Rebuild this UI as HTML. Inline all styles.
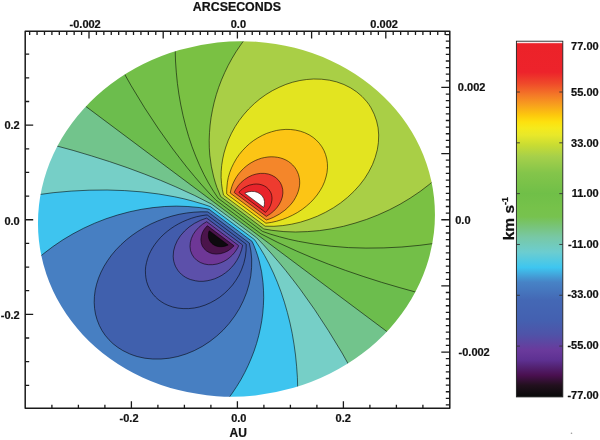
<!DOCTYPE html><html><head><meta charset="utf-8"><style>html,body{margin:0;padding:0;background:#fff;}body{width:600px;height:440px;overflow:hidden;}svg{display:block;}text{font-family:"Liberation Sans",sans-serif;font-weight:bold;fill:#111;stroke:#111;stroke-width:0.22px;}svg{will-change:transform;}</style></head><body><svg width="600" height="440" viewBox="0 0 600 440"><defs><mask id="disk" maskUnits="userSpaceOnUse" x="0" y="0" width="600" height="440"><ellipse cx="236.46" cy="218.95" rx="198.72" ry="177.46" transform="rotate(-6.14 236.46 218.95)" fill="#fff"/></mask><linearGradient id="cbg" x1="0" y1="0" x2="0" y2="1"><stop offset="0.0000" stop-color="#ffffff"/><stop offset="0.0032" stop-color="#ffffff"/><stop offset="0.0071" stop-color="#ec2229"/><stop offset="0.0870" stop-color="#ed232b"/><stop offset="0.1195" stop-color="#ef4a2a"/><stop offset="0.1519" stop-color="#f47a27"/><stop offset="0.1799" stop-color="#f8a11d"/><stop offset="0.2078" stop-color="#fdc80d"/><stop offset="0.2273" stop-color="#fde10f"/><stop offset="0.2442" stop-color="#f5ea1c"/><stop offset="0.2643" stop-color="#e8e82a"/><stop offset="0.2922" stop-color="#c8dc33"/><stop offset="0.3247" stop-color="#a6d04a"/><stop offset="0.3701" stop-color="#84c54a"/><stop offset="0.4286" stop-color="#70bf48"/><stop offset="0.4675" stop-color="#76c24a"/><stop offset="0.4935" stop-color="#77c24f"/><stop offset="0.5227" stop-color="#78c47c"/><stop offset="0.5506" stop-color="#78c8a5"/><stop offset="0.5929" stop-color="#6ccdd0"/><stop offset="0.6364" stop-color="#3ec6f0"/><stop offset="0.6773" stop-color="#4783c6"/><stop offset="0.7273" stop-color="#4468b5"/><stop offset="0.7857" stop-color="#4460b0"/><stop offset="0.8247" stop-color="#4f53a8"/><stop offset="0.8688" stop-color="#6a3a9c"/><stop offset="0.8961" stop-color="#5e3192"/><stop offset="0.9110" stop-color="#55267a"/><stop offset="0.9390" stop-color="#4a1050"/><stop offset="0.9669" stop-color="#22101e"/><stop offset="0.9968" stop-color="#0a0a0a"/><stop offset="1.0000" stop-color="#080808"/></linearGradient></defs><g mask="url(#disk)"><rect x="30" y="35" width="415" height="370" fill="#0d0a0e"/><path fill-rule="evenodd" fill="#4b144b" d="M34.7 38.6 438.3 38.6 438.3 399.8 34.7 399.8 34.7 38.6ZM209.1 230.9 208.6 232.6 208.4 234.6 208.4 236.6 208.7 238.3 209.4 240.2 210.3 241.7 211.4 243.0 212.7 244.2 214.3 245.2 215.9 245.9 217.9 246.5 219.9 246.7 221.9 246.7 223.9 246.4 225.9 245.9 228.2 245.0 209.5 230.9 209.1 230.9Z"/><path fill-rule="evenodd" fill="#6e3796" d="M34.7 38.6 438.3 38.6 438.3 399.8 34.7 399.8 34.7 38.6ZM207.1 225.9 204.5 229.0 202.6 232.2 201.4 235.8 200.9 239.4 201.2 242.6 202.2 245.8 204.0 248.6 206.6 251.0 209.5 252.7 212.7 253.7 216.3 254.1 220.3 253.7 224.3 252.6 227.9 250.9 231.1 248.6 234.1 245.8 207.5 225.8 207.1 225.9Z"/><path fill-rule="evenodd" fill="#5c50aa" d="M34.7 38.6 438.3 38.6 438.3 399.8 34.7 399.8 34.7 38.6ZM206.7 221.7 202.6 224.2 198.8 227.4 195.5 231.0 193.1 234.6 191.3 238.6 190.3 242.6 190.0 246.6 190.5 250.6 191.9 254.2 193.9 257.4 196.7 260.2 200.3 262.5 204.3 264.0 208.3 264.7 212.7 264.7 217.1 264.0 220.7 262.8 223.9 261.4 227.1 259.5 229.9 257.3 232.3 255.1 234.8 252.2 237.0 249.0 238.7 245.8 238.4 245.4 206.7 221.7Z"/><path fill-rule="evenodd" fill="#425cac" d="M34.7 38.6 438.3 38.6 438.3 399.8 34.7 399.8 34.7 38.6ZM206.3 218.2 200.3 220.4 194.4 223.4 189.1 227.0 184.6 231.0 180.4 235.8 177.3 240.6 175.0 245.8 173.6 251.0 173.2 256.2 173.4 259.0 173.8 261.4 174.5 263.8 175.4 266.2 176.5 268.2 177.9 270.4 179.5 272.4 181.3 274.2 183.3 275.8 185.5 277.3 187.9 278.5 190.3 279.5 195.5 280.8 199.1 281.3 203.1 281.3 207.1 280.8 210.7 280.0 214.7 278.8 218.3 277.2 221.9 275.3 225.5 272.8 228.7 270.2 231.5 267.4 234.3 264.1 236.7 260.6 238.7 257.0 240.3 253.4 241.7 249.4 242.6 245.4 242.6 245.0 206.7 218.1 206.3 218.2Z"/><path fill-rule="evenodd" fill="#4060ad" d="M34.7 38.6 438.3 38.6 438.3 399.8 34.7 399.8 34.7 38.6ZM205.9 215.0 201.0 215.8 196.3 216.8 191.7 218.2 187.3 219.8 182.6 221.8 178.6 223.8 174.5 226.2 170.9 228.6 167.2 231.4 163.9 234.2 160.6 237.4 157.8 240.6 155.0 244.2 152.6 247.8 150.6 251.4 148.9 255.0 147.6 258.6 146.5 262.6 145.7 266.6 145.4 270.2 145.5 274.2 145.9 277.8 146.6 281.4 147.8 285.0 149.2 288.2 151.0 291.4 153.1 294.3 155.5 297.0 158.1 299.4 161.1 301.6 164.3 303.6 167.9 305.3 172.7 307.0 177.9 308.1 183.1 308.6 188.7 308.6 194.3 308.0 199.5 306.9 205.1 305.1 210.3 302.8 215.1 300.2 219.9 297.1 224.3 293.5 228.7 289.3 232.5 285.0 235.9 280.3 239.1 275.0 241.5 269.8 243.8 263.4 245.3 257.0 246.1 250.6 246.2 244.2 207.3 215.0 205.9 215.0Z"/><path fill-rule="evenodd" fill="#477fc2" d="M34.7 38.6 438.3 38.6 438.3 399.8 34.7 399.8 34.7 38.6ZM201.1 211.8 193.9 212.2 186.6 213.0 179.1 214.3 171.9 216.1 164.7 218.3 157.7 221.0 151.1 223.9 144.4 227.4 137.8 231.4 132.0 235.4 126.4 239.8 121.1 244.6 116.0 249.8 111.6 255.0 107.6 260.6 104.1 266.2 101.0 272.2 98.5 278.2 96.6 284.2 95.2 290.2 94.4 296.6 94.2 302.6 94.6 308.6 95.5 314.2 97.1 319.8 99.3 325.4 101.9 330.4 105.1 335.2 109.0 339.8 113.1 343.8 117.8 347.4 122.7 350.5 129.5 353.8 133.1 355.2 137.1 356.5 144.7 358.2 152.7 359.0 161.1 359.0 169.5 358.2 177.9 356.5 186.3 353.9 194.3 350.6 202.3 346.4 209.9 341.4 216.7 336.1 223.1 330.2 229.1 323.5 234.7 316.1 239.4 308.6 243.4 300.6 246.6 292.6 249.1 284.2 250.8 275.8 251.6 267.4 251.7 259.0 250.9 251.0 249.3 243.0 207.9 211.9 201.1 211.8Z"/><path fill-rule="evenodd" fill="#3ec4ef" d="M34.7 38.6 438.3 38.6 438.3 399.8 227.4 399.8 232.3 393.1 236.7 386.5 240.8 379.8 244.7 372.6 248.3 365.2 251.5 357.8 254.3 350.3 256.7 343.0 258.8 335.4 260.5 327.8 261.9 320.2 262.8 312.6 263.5 305.0 263.7 297.4 263.5 289.8 263.0 282.2 261.4 271.0 259.1 260.6 257.6 255.4 255.8 250.2 253.7 245.0 252.1 241.4 208.7 209.1 198.3 207.4 187.1 206.4 175.9 206.1 164.3 206.5 152.7 207.6 140.7 209.5 128.7 212.0 117.1 215.1 105.5 219.0 94.3 223.4 83.7 228.2 73.0 233.8 62.9 239.8 52.9 246.6 43.4 253.8 34.7 261.3 34.7 38.6Z"/><path fill-rule="evenodd" fill="#76cfc7" d="M34.7 38.6 438.3 38.6 438.3 399.8 297.7 399.8 297.6 383.0 296.6 366.2 294.8 349.8 292.2 333.4 288.6 317.4 284.4 302.2 279.3 287.4 276.5 280.2 273.4 273.0 269.0 263.8 264.5 255.4 259.7 247.4 254.7 239.8 210.3 206.6 201.5 203.7 191.9 200.9 182.3 198.5 172.3 196.3 161.9 194.5 151.1 193.0 139.9 191.7 128.7 190.8 117.5 190.2 105.9 190.0 94.3 190.0 82.3 190.4 70.7 191.1 58.7 192.2 46.7 193.5 34.7 195.2 34.7 38.6Z"/><path fill-rule="evenodd" fill="#72c48c" d="M34.7 38.6 438.3 38.6 438.3 399.8 367.5 399.8 358.4 382.2 349.0 365.0 339.2 348.2 329.4 332.2 319.4 316.6 308.9 301.4 298.5 287.0 287.7 273.0 280.2 263.8 272.3 254.6 264.4 245.8 257.1 238.1 211.9 204.3 193.9 195.1 174.7 186.3 153.5 177.5 131.5 169.2 108.3 161.2 84.7 153.8 59.9 146.8 34.7 140.3 34.7 38.6Z"/><path fill-rule="evenodd" fill="#6cbd4d" d="M34.7 38.6 438.3 38.6 438.3 370.0 34.7 68.2 34.7 38.6Z"/><path fill-rule="evenodd" fill="#73bf48" d="M105.5 38.6 438.3 38.6 438.3 297.9 418.7 292.9 399.9 287.7 381.5 282.3 363.1 276.4 345.5 270.4 328.3 264.1 311.9 257.6 296.7 251.1 277.9 242.5 260.9 233.8 216.0 200.2 209.1 193.0 201.8 185.0 194.6 176.6 187.3 167.8 180.1 158.6 172.8 149.0 158.6 129.0 144.6 107.8 131.2 85.8 118.1 62.6 105.5 38.6Z"/><path fill-rule="evenodd" fill="#7ac143" d="M175.2 38.6 438.3 38.6 438.3 242.9 419.9 245.3 401.9 247.0 383.9 247.9 365.9 248.1 348.3 247.6 331.1 246.2 314.3 244.1 298.3 241.3 288.7 239.2 279.5 236.8 270.3 234.1 262.5 231.4 218.3 198.4 213.6 191.4 208.5 183.0 204.0 174.6 199.6 165.4 195.7 156.2 192.0 146.6 188.7 136.6 185.7 126.2 183.1 115.8 180.8 105.0 178.9 94.2 177.4 83.4 176.3 72.2 175.5 61.0 175.2 49.8 175.2 38.6Z"/><path fill-rule="evenodd" fill="#a9cf46" d="M244.9 39.0 245.2 38.6 438.3 38.6 438.3 176.6 429.6 184.2 420.2 191.4 410.1 198.2 400.1 204.2 389.4 209.8 377.9 215.0 366.6 219.4 355.1 223.1 343.5 226.3 331.5 228.8 319.5 230.6 307.5 231.6 295.5 232.0 283.9 231.6 271.9 230.3 264.7 229.1 263.9 228.9 263.5 228.7 220.7 196.6 216.9 187.4 213.8 177.4 211.4 166.6 209.9 155.8 209.4 148.6 209.2 141.0 209.4 133.4 210.0 125.8 211.0 118.2 212.3 110.5 214.0 103.0 216.1 95.4 218.5 87.8 221.3 80.6 224.3 73.4 227.9 66.0 231.7 59.0 235.9 52.0 240.3 45.3 244.9 39.0Z"/><path fill-rule="evenodd" fill="#e3e420" d="M313.6 79.0 321.5 79.2 329.5 80.2 336.7 81.9 343.9 84.5 350.7 87.9 356.7 91.9 362.2 96.6 366.9 101.8 369.0 104.6 371.0 107.8 374.2 114.2 376.6 121.0 378.1 127.8 378.7 135.0 378.4 142.6 377.3 149.8 375.2 157.4 372.5 164.6 368.8 171.8 364.6 178.6 359.7 185.0 353.9 191.4 347.5 197.4 340.5 203.0 333.4 207.8 325.7 212.2 317.4 216.2 309.1 219.4 300.3 222.2 291.6 224.2 282.7 225.6 273.9 226.3 265.1 226.2 223.8 195.4 223.5 195.0 222.3 189.4 221.5 183.4 221.1 177.4 221.2 171.4 221.7 165.4 222.7 159.0 224.0 153.0 225.8 147.0 228.3 140.1 231.5 133.2 235.1 126.7 239.1 120.6 243.5 114.9 248.7 109.0 254.3 103.6 259.9 98.9 265.9 94.6 272.3 90.7 279.1 87.3 285.9 84.4 292.7 82.2 299.9 80.5 306.7 79.5 313.6 79.0Z"/><path fill-rule="evenodd" fill="#fcc515" d="M280.8 129.8 285.9 129.4 290.7 129.5 295.5 130.1 300.3 131.2 304.7 132.7 309.1 134.8 313.1 137.4 316.3 140.1 319.4 143.4 321.9 146.8 324.0 150.6 325.6 154.6 326.8 159.0 327.4 163.4 327.5 167.8 327.0 172.6 326.0 177.0 324.5 181.8 322.6 186.2 320.1 190.6 317.1 195.0 313.8 199.0 310.4 202.6 306.3 206.2 302.2 209.4 297.3 212.6 292.3 215.3 287.5 217.5 282.3 219.5 276.7 221.2 271.5 222.4 265.9 223.2 226.9 194.2 226.7 193.8 226.7 189.4 227.4 182.2 228.3 177.4 229.7 172.6 231.5 167.9 233.7 163.4 236.3 158.8 239.1 154.7 242.3 150.8 245.9 147.0 249.5 143.7 253.5 140.6 257.9 137.8 262.3 135.4 266.7 133.4 271.5 131.8 276.3 130.5 280.8 129.8Z"/><path fill-rule="evenodd" fill="#f4862a" d="M267.9 157.0 271.1 156.8 274.3 156.9 277.5 157.3 280.3 157.9 283.1 158.8 285.9 160.0 288.3 161.4 290.7 163.2 292.7 165.0 294.7 167.3 296.3 169.7 297.5 172.1 298.5 174.6 299.2 177.4 299.6 180.2 299.7 183.0 299.5 185.8 298.9 189.0 298.1 191.8 297.0 194.6 295.6 197.4 294.0 200.2 292.0 203.0 289.9 205.4 287.6 207.8 284.9 210.2 279.3 214.2 273.3 217.4 269.9 218.8 266.3 220.0 230.2 193.0 230.9 189.8 231.9 186.4 233.1 183.3 234.7 180.0 236.7 176.6 238.7 173.8 241.1 171.0 243.5 168.5 246.3 166.1 249.1 164.0 251.9 162.3 255.1 160.6 258.3 159.3 261.5 158.2 264.7 157.5 267.9 157.0Z"/><path fill-rule="evenodd" fill="#ee3b2f" d="M260.3 173.4 264.3 173.4 268.3 174.0 271.9 175.3 275.1 177.1 277.9 179.5 280.3 182.6 281.8 185.8 282.7 189.4 282.9 193.0 282.3 197.0 281.1 200.6 279.3 204.2 276.8 207.8 273.8 211.0 270.4 213.8 266.3 216.4 234.3 192.6 234.3 192.2 235.5 189.7 238.3 185.6 241.1 182.4 244.7 179.4 248.3 177.1 252.3 175.2 256.3 174.0 260.3 173.4Z"/><path fill-rule="evenodd" fill="#e8232b" d="M253.7 184.2 256.3 184.0 259.1 184.2 261.9 184.9 264.3 185.9 266.3 187.1 268.3 188.9 269.9 191.0 271.0 193.0 271.7 195.4 272.0 197.8 271.9 200.2 271.3 203.0 270.3 205.8 269.0 208.2 267.2 210.6 265.5 212.4 239.0 192.6 238.9 192.2 240.7 190.4 242.7 188.7 245.1 187.1 247.1 186.1 249.5 185.1 253.7 184.2Z"/><path fill-rule="evenodd" fill="#ffffff" d="M251.5 191.4 254.7 191.6 257.5 192.4 260.3 194.0 262.3 196.0 263.8 198.6 264.5 201.4 264.4 204.6 263.8 207.0 263.5 207.3 244.9 193.4 244.9 193.0 247.1 192.2 249.1 191.7 251.5 191.4Z"/><g fill="none" stroke="#000" stroke-opacity="0.62" stroke-width="0.9"><path d="M209.1 230.9 208.6 232.6 208.4 234.6 208.4 236.6 208.7 238.3 209.4 240.2 210.3 241.7 211.4 243.0 212.7 244.2 214.3 245.2 215.9 245.9 217.9 246.5 219.9 246.7 221.9 246.7 223.9 246.4 225.9 245.9 228.2 245.0 209.5 230.9 209.1 230.9"/><path d="M207.1 225.9 204.5 229.0 202.6 232.2 201.4 235.8 200.9 239.4 201.2 242.6 202.2 245.8 204.0 248.6 206.6 251.0 209.5 252.7 212.7 253.7 216.3 254.1 220.3 253.7 224.3 252.6 227.9 250.9 231.1 248.6 234.1 245.8 207.5 225.8 207.1 225.9"/><path d="M206.7 221.7 202.6 224.2 198.8 227.4 195.5 231.0 193.1 234.6 191.3 238.6 190.3 242.6 190.0 246.6 190.5 250.6 191.9 254.2 193.9 257.4 196.7 260.2 200.3 262.5 204.3 264.0 208.3 264.7 212.7 264.7 217.1 264.0 220.7 262.8 223.9 261.4 227.1 259.5 229.9 257.3 232.3 255.1 234.8 252.2 237.0 249.0 238.7 245.8 238.4 245.4 206.7 221.7"/><path d="M206.3 218.2 200.3 220.4 194.4 223.4 189.1 227.0 184.6 231.0 180.4 235.8 177.3 240.6 175.0 245.8 173.6 251.0 173.2 256.2 173.4 259.0 173.8 261.4 174.5 263.8 175.4 266.2 176.5 268.2 177.9 270.4 179.5 272.4 181.3 274.2 183.3 275.8 185.5 277.3 187.9 278.5 190.3 279.5 195.5 280.8 199.1 281.3 203.1 281.3 207.1 280.8 210.7 280.0 214.7 278.8 218.3 277.2 221.9 275.3 225.5 272.8 228.7 270.2 231.5 267.4 234.3 264.1 236.7 260.6 238.7 257.0 240.3 253.4 241.7 249.4 242.6 245.4 242.6 245.0 206.7 218.1 206.3 218.2"/><path d="M205.9 215.0 201.0 215.8 196.3 216.8 191.7 218.2 187.3 219.8 182.6 221.8 178.6 223.8 174.5 226.2 170.9 228.6 167.2 231.4 163.9 234.2 160.6 237.4 157.8 240.6 155.0 244.2 152.6 247.8 150.6 251.4 148.9 255.0 147.6 258.6 146.5 262.6 145.7 266.6 145.4 270.2 145.5 274.2 145.9 277.8 146.6 281.4 147.8 285.0 149.2 288.2 151.0 291.4 153.1 294.3 155.5 297.0 158.1 299.4 161.1 301.6 164.3 303.6 167.9 305.3 172.7 307.0 177.9 308.1 183.1 308.6 188.7 308.6 194.3 308.0 199.5 306.9 205.1 305.1 210.3 302.8 215.1 300.2 219.9 297.1 224.3 293.5 228.7 289.3 232.5 285.0 235.9 280.3 239.1 275.0 241.5 269.8 243.8 263.4 245.3 257.0 246.1 250.6 246.2 244.2 207.3 215.0 205.9 215.0"/><path d="M201.1 211.8 193.9 212.2 186.6 213.0 179.1 214.3 171.9 216.1 164.7 218.3 157.7 221.0 151.1 223.9 144.4 227.4 137.8 231.4 132.0 235.4 126.4 239.8 121.1 244.6 116.0 249.8 111.6 255.0 107.6 260.6 104.1 266.2 101.0 272.2 98.5 278.2 96.6 284.2 95.2 290.2 94.4 296.6 94.2 302.6 94.6 308.6 95.5 314.2 97.1 319.8 99.3 325.4 101.9 330.4 105.1 335.2 109.0 339.8 113.1 343.8 117.8 347.4 122.7 350.5 129.5 353.8 133.1 355.2 137.1 356.5 144.7 358.2 152.7 359.0 161.1 359.0 169.5 358.2 177.9 356.5 186.3 353.9 194.3 350.6 202.3 346.4 209.9 341.4 216.7 336.1 223.1 330.2 229.1 323.5 234.7 316.1 239.4 308.6 243.4 300.6 246.6 292.6 249.1 284.2 250.8 275.8 251.6 267.4 251.7 259.0 250.9 251.0 249.3 243.0 207.9 211.9 201.1 211.8"/><path d="M227.4 399.8 232.3 393.1 236.7 386.5 240.8 379.8 244.7 372.6 248.2 365.4 251.3 358.2 254.1 351.0 256.6 343.4 258.7 335.8 260.4 328.2 261.8 320.6 262.8 313.0 263.4 305.4 263.7 297.8 263.5 290.2 263.0 282.6 261.6 271.8 259.2 261.0 257.7 255.8 255.9 250.6 253.9 245.4 252.1 241.4 209.1 209.3 205.1 208.4 199.1 207.5 187.9 206.5 176.3 206.1 164.7 206.5 153.1 207.6 141.1 209.4 129.5 211.8 117.6 215.0 105.9 218.8 94.7 223.2 83.7 228.2 73.0 233.8 62.9 239.8 52.9 246.6 43.4 253.8 34.7 261.3"/><path d="M297.7 399.8 297.7 388.6 297.4 377.4 296.6 366.2 295.5 355.0 294.0 344.2 292.2 333.4 290.0 323.0 287.4 312.6 284.4 302.2 281.1 292.2 277.3 282.2 273.4 273.0 269.0 263.8 264.5 255.4 259.7 247.4 254.7 239.8 210.3 206.6 202.3 203.9 193.1 201.2 183.9 198.8 174.7 196.8 158.7 194.0 141.9 191.9 124.7 190.6 107.1 190.0 89.1 190.2 71.1 191.1 53.1 192.7 34.7 195.2"/><path d="M367.5 399.8 354.9 375.8 342.1 353.0 328.4 330.6 314.5 309.4 300.3 289.4 293.0 279.8 285.8 270.6 278.5 261.8 270.9 253.0 263.3 244.6 256.7 237.8 211.9 204.3 194.7 195.5 175.9 186.9 160.7 180.4 144.3 174.0 127.1 167.6 109.5 161.6 91.5 155.9 73.1 150.4 53.9 145.2 34.7 140.3"/><path d="M438.3 370.0 34.7 68.2"/><path d="M438.3 297.9 418.7 292.9 399.9 287.7 381.5 282.3 363.1 276.4 345.5 270.4 328.3 264.1 311.9 257.6 296.7 251.1 277.9 242.5 260.9 233.8 216.0 200.2 209.1 193.0 201.8 185.0 194.6 176.6 187.3 167.8 180.1 158.6 172.8 149.0 158.6 129.0 144.6 107.8 131.2 85.8 118.1 62.6 105.5 38.6"/><path d="M438.3 242.9 419.9 245.3 401.9 247.0 383.9 247.9 365.9 248.1 348.3 247.6 331.1 246.2 314.3 244.1 298.3 241.3 288.7 239.2 279.5 236.8 270.3 234.1 262.5 231.4 218.3 198.4 213.6 191.4 208.5 183.0 204.0 174.6 199.6 165.4 195.7 156.2 192.0 146.6 188.7 136.6 185.7 126.2 183.1 115.8 180.8 105.0 178.9 94.2 177.4 83.4 176.3 72.2 175.5 61.0 175.2 49.8 175.2 38.6"/><path d="M438.3 176.6 429.6 184.2 420.2 191.4 410.1 198.2 400.1 204.2 389.4 209.8 377.9 215.0 366.6 219.4 355.1 223.1 343.5 226.3 331.5 228.8 319.5 230.6 307.5 231.6 295.5 232.0 283.9 231.6 271.9 230.3 264.7 229.1 263.9 228.9 263.5 228.7 220.7 196.6 216.9 187.4 215.2 182.2 213.7 177.0 211.3 166.2 209.8 155.4 209.3 147.8 209.2 140.2 209.5 132.6 210.1 125.0 211.1 117.4 212.5 109.8 214.2 102.2 216.3 94.6 218.7 87.3 221.5 79.9 224.7 72.6 228.2 65.4 231.9 58.6 236.0 51.8 240.6 45.0 245.2 38.6"/><path d="M313.6 79.0 321.5 79.2 329.5 80.2 336.7 81.9 343.9 84.5 350.7 87.9 356.7 91.9 362.2 96.6 366.9 101.8 369.0 104.6 371.0 107.8 374.2 114.2 376.6 121.0 378.1 127.8 378.7 135.0 378.4 142.6 377.3 149.8 375.2 157.4 372.5 164.6 368.8 171.8 364.6 178.6 359.7 185.0 353.9 191.4 347.5 197.4 340.5 203.0 333.4 207.8 325.7 212.2 317.4 216.2 309.1 219.4 300.3 222.2 291.6 224.2 282.7 225.6 273.9 226.3 265.1 226.2 223.8 195.4 223.5 195.0 222.3 189.4 221.5 183.4 221.1 177.4 221.2 171.4 221.7 165.4 222.7 159.0 224.0 153.0 225.8 147.0 228.3 140.1 231.5 133.2 235.1 126.7 239.1 120.6 243.5 114.9 248.7 109.0 254.3 103.6 259.9 98.9 265.9 94.6 272.3 90.7 279.1 87.3 285.9 84.4 292.7 82.2 299.9 80.5 306.7 79.5 313.6 79.0"/><path d="M280.8 129.8 285.9 129.4 290.7 129.5 295.5 130.1 300.3 131.2 304.7 132.7 309.1 134.8 313.1 137.4 316.3 140.1 319.4 143.4 321.9 146.8 324.0 150.6 325.6 154.6 326.8 159.0 327.4 163.4 327.5 167.8 327.0 172.6 326.0 177.0 324.5 181.8 322.6 186.2 320.1 190.6 317.1 195.0 313.8 199.0 310.4 202.6 306.3 206.2 302.2 209.4 297.3 212.6 292.3 215.3 287.5 217.5 282.3 219.5 276.7 221.2 271.5 222.4 265.9 223.2 226.9 194.2 226.7 193.8 226.7 189.4 227.4 182.2 228.3 177.4 229.7 172.6 231.5 167.9 233.7 163.4 236.3 158.8 239.1 154.7 242.3 150.8 245.9 147.0 249.5 143.7 253.5 140.6 257.9 137.8 262.3 135.4 266.7 133.4 271.5 131.8 276.3 130.5 280.8 129.8"/><path d="M267.9 157.0 271.1 156.8 274.3 156.9 277.5 157.3 280.3 157.9 283.1 158.8 285.9 160.0 288.3 161.4 290.7 163.2 292.7 165.0 294.7 167.3 296.3 169.7 297.5 172.1 298.5 174.6 299.2 177.4 299.6 180.2 299.7 183.0 299.5 185.8 298.9 189.0 298.1 191.8 297.0 194.6 295.6 197.4 294.0 200.2 292.0 203.0 289.9 205.4 287.6 207.8 284.9 210.2 279.3 214.2 273.3 217.4 269.9 218.8 266.3 220.0 230.2 193.0 230.9 189.8 231.9 186.4 233.1 183.3 234.7 180.0 236.7 176.6 238.7 173.8 241.1 171.0 243.5 168.5 246.3 166.1 249.1 164.0 251.9 162.3 255.1 160.6 258.3 159.3 261.5 158.2 264.7 157.5 267.9 157.0"/><path d="M260.3 173.4 264.3 173.4 268.3 174.0 271.9 175.3 275.1 177.1 277.9 179.5 280.3 182.6 281.8 185.8 282.7 189.4 282.9 193.0 282.3 197.0 281.1 200.6 279.3 204.2 276.8 207.8 273.8 211.0 270.4 213.8 266.3 216.4 234.3 192.6 234.3 192.2 235.5 189.7 238.3 185.6 241.1 182.4 244.7 179.4 248.3 177.1 252.3 175.2 256.3 174.0 260.3 173.4"/><path d="M253.7 184.2 256.3 184.0 259.1 184.2 261.9 184.9 264.3 185.9 266.3 187.1 268.3 188.9 269.9 191.0 271.0 193.0 271.7 195.4 272.0 197.8 271.9 200.2 271.3 203.0 270.3 205.8 269.0 208.2 267.2 210.6 265.5 212.4 239.0 192.6 238.9 192.2 240.7 190.4 242.7 188.7 245.1 187.1 247.1 186.1 249.5 185.1 253.7 184.2"/><path d="M251.5 191.4 254.7 191.6 257.5 192.4 260.3 194.0 262.3 196.0 263.8 198.6 264.5 201.4 264.4 204.6 263.8 207.0 263.5 207.3 244.9 193.4 244.9 193.0 247.1 192.2 249.1 191.7 251.5 191.4"/></g></g><rect x="25.2" y="31.3" width="424.6" height="376.9" fill="none" stroke="#1a1a1a" stroke-width="1.5" stroke-linejoin="round"/><path d="M51.90 408.2V404.7M78.40 408.2V404.7M104.90 408.2V404.7M131.40 408.2V401.2M157.90 408.2V404.7M184.40 408.2V404.7M210.90 408.2V404.7M237.40 408.2V401.2M263.90 408.2V404.7M290.40 408.2V404.7M316.90 408.2V404.7M343.40 408.2V401.2M369.90 408.2V404.7M396.40 408.2V404.7M422.90 408.2V404.7M25.2 385.30H29.2M25.2 361.65H29.2M25.2 338.00H29.2M25.2 314.35H33.2M25.2 290.70H29.2M25.2 267.05H29.2M25.2 243.40H29.2M25.2 219.75H33.2M25.2 196.10H29.2M25.2 172.45H29.2M25.2 148.80H29.2M25.2 125.15H33.2M25.2 101.50H29.2M25.2 77.85H29.2M25.2 54.20H29.2M29.64 31.3V35.0M37.06 31.3V35.0M44.48 31.3V35.0M51.90 31.3V35.0M59.32 31.3V35.0M66.74 31.3V35.0M74.16 31.3V35.0M81.58 31.3V35.0M89.00 31.3V38.6M96.42 31.3V35.0M103.84 31.3V35.0M111.26 31.3V35.0M118.68 31.3V35.0M126.10 31.3V35.0M133.52 31.3V35.0M140.94 31.3V35.0M148.36 31.3V35.0M155.78 31.3V35.0M163.20 31.3V38.6M170.62 31.3V35.0M178.04 31.3V35.0M185.46 31.3V35.0M192.88 31.3V35.0M200.30 31.3V35.0M207.72 31.3V35.0M215.14 31.3V35.0M222.56 31.3V35.0M229.98 31.3V35.0M237.40 31.3V38.6M244.82 31.3V35.0M252.24 31.3V35.0M259.66 31.3V35.0M267.08 31.3V35.0M274.50 31.3V35.0M281.92 31.3V35.0M289.34 31.3V35.0M296.76 31.3V35.0M304.18 31.3V35.0M311.60 31.3V38.6M319.02 31.3V35.0M326.44 31.3V35.0M333.86 31.3V35.0M341.28 31.3V35.0M348.70 31.3V35.0M356.12 31.3V35.0M363.54 31.3V35.0M370.96 31.3V35.0M378.38 31.3V35.0M385.80 31.3V38.6M393.22 31.3V35.0M400.64 31.3V35.0M408.06 31.3V35.0M415.48 31.3V35.0M422.90 31.3V35.0M430.32 31.3V35.0M437.74 31.3V35.0M445.16 31.3V35.0M449.8 404.97H445.8M449.8 398.36H445.8M449.8 391.74H445.8M449.8 385.12H445.8M449.8 378.51H445.8M449.8 371.89H445.8M449.8 365.28H445.8M449.8 358.66H445.8M449.8 352.05H441.3M449.8 345.44H445.8M449.8 338.82H445.8M449.8 332.20H445.8M449.8 325.59H445.8M449.8 318.98H445.8M449.8 312.36H445.8M449.8 305.75H445.8M449.8 299.13H445.8M449.8 292.51H445.8M449.8 285.90H441.3M449.8 279.29H445.8M449.8 272.67H445.8M449.8 266.06H445.8M449.8 259.44H445.8M449.8 252.82H445.8M449.8 246.21H445.8M449.8 239.59H445.8M449.8 232.98H445.8M449.8 226.37H445.8M449.8 219.75H441.3M449.8 213.13H445.8M449.8 206.52H445.8M449.8 199.91H445.8M449.8 193.29H445.8M449.8 186.68H445.8M449.8 180.06H445.8M449.8 173.44H445.8M449.8 166.83H445.8M449.8 160.22H445.8M449.8 153.60H441.3M449.8 146.99H445.8M449.8 140.37H445.8M449.8 133.75H445.8M449.8 127.14H445.8M449.8 120.52H445.8M449.8 113.91H445.8M449.8 107.30H445.8M449.8 100.68H445.8M449.8 94.06H445.8M449.8 87.45H441.3M449.8 80.84H445.8M449.8 74.22H445.8M449.8 67.60H445.8M449.8 60.99H445.8M449.8 54.38H445.8M449.8 47.76H445.8M449.8 41.14H445.8M449.8 34.53H445.8" stroke="#1a1a1a" stroke-width="1.3" fill="none"/><text x="69.55" y="27.6" font-size="11" text-anchor="start" >-0.002</text><text x="230.75" y="27.6" font-size="11" text-anchor="start" >0.0</text><text x="370.35" y="27.6" font-size="11" text-anchor="start" >0.002</text><text x="119.55" y="422.2" font-size="11" text-anchor="start" >-0.2</text><text x="231.15" y="422.2" font-size="11" text-anchor="start" >0.0</text><text x="335.55" y="422.2" font-size="11" text-anchor="start" >0.2</text><text x="19.70" y="128.75" font-size="11" text-anchor="end" >0.2</text><text x="19.70" y="224.75" font-size="11" text-anchor="end" >0.0</text><text x="19.70" y="318.5" font-size="11" text-anchor="end" >-0.2</text><text x="457.85" y="91" font-size="11" text-anchor="start" >0.002</text><text x="455.25" y="224" font-size="11" text-anchor="start" >0.0</text><text x="458.55" y="355.75" font-size="11" text-anchor="start" >-0.002</text><text x="192.80" y="11.2" font-size="12.4" text-anchor="start" >ARCSECONDS</text><text x="229.50" y="436.7" font-size="12" text-anchor="start" >AU</text><circle cx="571.5" cy="433.3" r="0.8" fill="#999"/><rect x="516.4" y="41.2" width="46.39999999999998" height="355.7" fill="url(#cbg)" stroke="#222" stroke-width="0.9"/><path d="M516.4 92.01h3.5M562.8 92.01h-3.5M516.4 142.83h3.5M562.8 142.83h-3.5M516.4 193.64h3.5M562.8 193.64h-3.5M516.4 244.46h3.5M562.8 244.46h-3.5M516.4 295.27h3.5M562.8 295.27h-3.5M516.4 346.09h3.5M562.8 346.09h-3.5" stroke="#333" stroke-width="0.9"/><text x="598.65" y="50" font-size="11" text-anchor="end" >77.00</text><text x="598.65" y="96.3" font-size="11" text-anchor="end" >55.00</text><text x="598.65" y="146.8" font-size="11" text-anchor="end" >33.00</text><text x="598.65" y="197.2" font-size="11" text-anchor="end" >11.00</text><text x="598.65" y="247.8" font-size="11" text-anchor="end" >-11.00</text><text x="598.65" y="297.7" font-size="11" text-anchor="end" >-33.00</text><text x="598.65" y="349.4" font-size="11" text-anchor="end" >-55.00</text><text x="598.65" y="398.7" font-size="11" text-anchor="end" >-77.00</text><text transform="translate(513.7,240.3) rotate(-90)" font-size="15.5">km s<tspan dy="-5.5" font-size="9">-1</tspan></text></svg></body></html>
